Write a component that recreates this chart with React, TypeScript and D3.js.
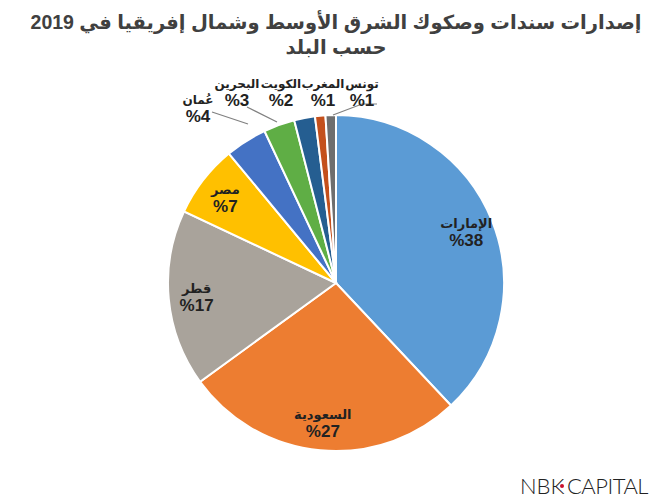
import React from "react";
import * as d3 from "d3";

const countries = ["الإمارات", "السعودية", "قطر", "مصر", "عُمان", "البحرين", "الكويت", "المغرب", "تونس"];
const shares = [38, 27, 17, 7, 4, 3, 2, 1, 1];
const colors = ["#5B9BD5", "#ED7D31", "#A9A39B", "#FFC000", "#4472C4", "#5FAE45", "#255E91", "#C4501C", "#6E6E6E"];
const titleLines = ["إصدارات سندات وصكوك الشرق الأوسط وشمال إفريقيا في 2019", "حسب البلد"];

// label placement for small slices shown outside the pie (relative to pie centre)
const outsideLabels: Record<string, [number, number]> = {
  "عُمان": [-138, -179],
  "البحرين": [-99, -195],
  "الكويت": [-55, -195],
  "المغرب": [-13, -195],
  "تونس": [26, -195],
};
// leader lines (relative to pie centre)
const leaders: Record<string, [number, number][]> = {
  "عُمان": [[-124, -171], [-88, -159]],
  "البحرين": [[-89, -176], [-59, -161]],
  "تونس": [[41, -179], [26, -179], [-3, -168]],
};

export default function App() {
  const W = 656, H = 500;
  const cx = 336, cy = 283, R = 168;
  const pie = d3.pie<number>().sort(null).value((d) => d)(shares);
  const arc = d3.arc<d3.PieArcDatum<number>>().innerRadius(0).outerRadius(R);
  const labelArc = d3.arc<d3.PieArcDatum<number>>().innerRadius(140).outerRadius(140);
  const font = "'Liberation Sans', Arial, 'DejaVu Sans', sans-serif";

  return (
    <svg width={W} height={H} style={{ position: "absolute", left: 0, top: 0 }} xmlns="http://www.w3.org/2000/svg">
      <rect width={W} height={H} fill="#fff" />
      {titleLines.map((t, i) => (
        <text key={i} x={336} y={29 + i * 25} textAnchor="middle" direction="rtl"
          fontFamily={font} fontWeight="bold" fontSize={19.5} fill="#404040">{t}</text>
      ))}
      <g transform={`translate(${cx},${cy})`}>
        {pie.map((p, i) => (
          <path key={i} d={arc(p) || ""} fill={colors[i]} stroke="#fff" strokeWidth={2} />
        ))}
        {Object.entries(leaders).map(([k, pts]) => (
          <polyline key={k} points={pts.map((q) => q.join(",")).join(" ")} fill="none" stroke="#808080" strokeWidth={1.2} />
        ))}
        {pie.map((p, i) => {
          const name = countries[i];
          const out = outsideLabels[name];
          const [x, y] = out ? out : labelArc.centroid(p);
          const y0 = out ? y : y - 3;
          return (
            <g key={"l" + i}>
              <text x={x} y={y0} textAnchor="middle" fontFamily={font} fontWeight="bold" fontSize={out ? 12 : 13} fill="#222">{name}</text>
              <text x={x} y={y0 + 18} textAnchor="middle" fontFamily={font} fontWeight="bold" fontSize={17} fill="#222">{"%" + shares[i]}</text>
            </g>
          );
        })}
      </g>
      <g fontFamily="Lato, 'DejaVu Sans', sans-serif" fontWeight={300} fontSize={22} fill="#222">
        <text x={520} y={494}>NBK</text>
        <circle cx={562} cy={486} r={2} fill="#C8102E" />
        <text x={567} y={494} letterSpacing={-0.5}>CAPITAL</text>
      </g>
    </svg>
  );
}
